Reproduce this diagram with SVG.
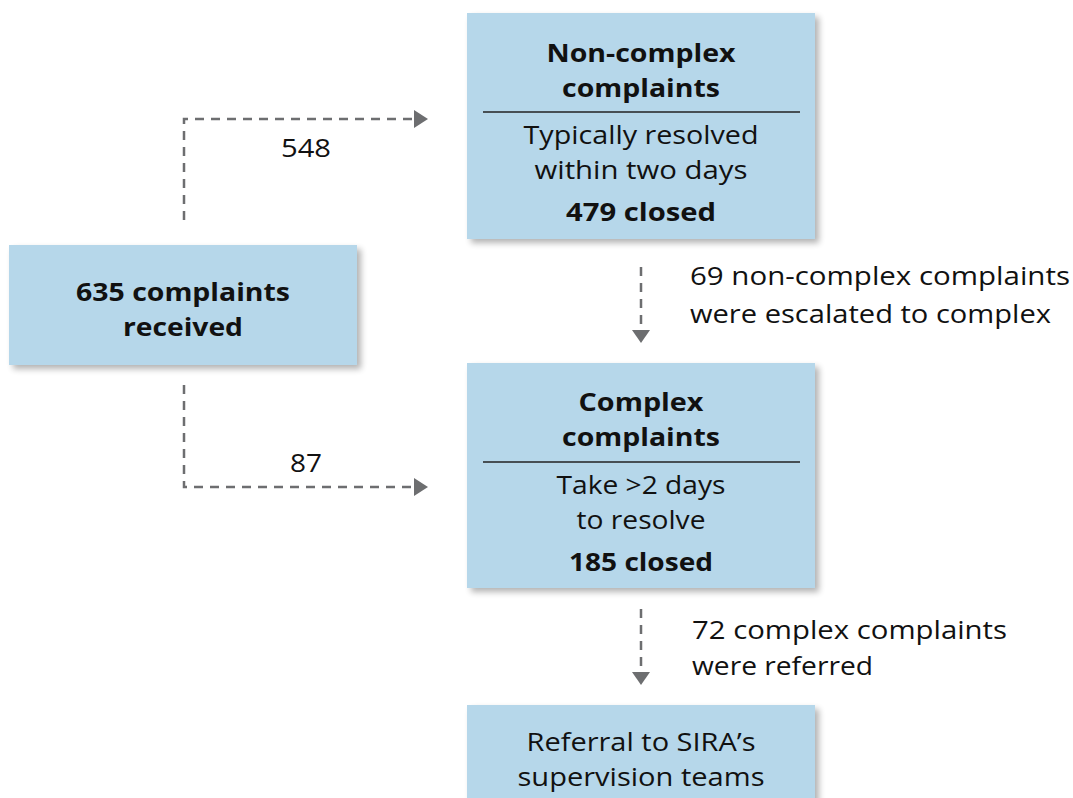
<svg xmlns="http://www.w3.org/2000/svg" width="1073" height="798" viewBox="0 0 1073 798">
<defs>
<filter id="sh" x="-10%" y="-10%" width="125%" height="130%">
<feGaussianBlur in="SourceAlpha" stdDeviation="3"/>
<feOffset dx="4" dy="4"/>
<feComponentTransfer><feFuncA type="linear" slope="0.3"/></feComponentTransfer>
<feMerge><feMergeNode/><feMergeNode in="SourceGraphic"/></feMerge>
</filter>
</defs>
<style>
.box{fill:#b6d7ea;filter:url(#sh)}
.t{font-family:"Open Sans","Liberation Sans",sans-serif;font-size:25px;fill:#111;text-anchor:middle}
.b{font-weight:bold}
.l{text-anchor:start}
.c{fill:none;stroke:#6d6e70;stroke-width:2.5;stroke-dasharray:9 7}
.div{stroke:#222;stroke-width:1.3}
.ahp{fill:#6d6e70}
</style>
<rect width="1073" height="798" fill="#fff"/>
<g id="connectors">
<path class="c" d="M184,220 V119 H414"/>
<path class="ahp" d="M414,110 L428,119 L414,128 Z"/>
<text class="t" x="306" y="157" textLength="50" lengthAdjust="spacingAndGlyphs">548</text>
<path class="c" d="M184,385 V487 H414"/>
<path class="ahp" d="M414,478 L428,487 L414,496 Z"/>
<text class="t" x="306" y="472" textLength="32" lengthAdjust="spacingAndGlyphs">87</text>
<path class="c" d="M641,267 V330"/>
<path class="ahp" d="M632,330 L641,343 L650,330 Z"/>
<text class="t l" x="690" y="285" textLength="380" lengthAdjust="spacingAndGlyphs">69 non-complex complaints</text>
<text class="t l" x="690" y="323" textLength="361" lengthAdjust="spacingAndGlyphs">were escalated to complex</text>
<path class="c" d="M641,609 V672"/>
<path class="ahp" d="M632,672 L641,685 L650,672 Z"/>
<text class="t l" x="692" y="639" textLength="315" lengthAdjust="spacingAndGlyphs">72 complex complaints</text>
<text class="t l" x="692" y="675" textLength="181" lengthAdjust="spacingAndGlyphs">were referred</text>
</g>
<g id="received">
<rect class="box" x="9" y="245" width="348" height="120"/>
<text class="t b" x="183" y="301" textLength="214" lengthAdjust="spacingAndGlyphs">635 complaints</text>
<text class="t b" x="183" y="336" textLength="120" lengthAdjust="spacingAndGlyphs">received</text>
</g>
<g id="noncomplex">
<rect class="box" x="467" y="13" width="348" height="226"/>
<text class="t b" x="641" y="62" textLength="189" lengthAdjust="spacingAndGlyphs">Non-complex</text>
<text class="t b" x="641" y="97" textLength="158" lengthAdjust="spacingAndGlyphs">complaints</text>
<line class="div" x1="483" y1="112" x2="800" y2="112"/>
<text class="t" x="641" y="144" textLength="235" lengthAdjust="spacingAndGlyphs">Typically resolved</text>
<text class="t" x="641" y="179" textLength="213" lengthAdjust="spacingAndGlyphs">within two days</text>
<text class="t b" x="641" y="221" textLength="150" lengthAdjust="spacingAndGlyphs">479 closed</text>
</g>
<g id="complex">
<rect class="box" x="467" y="363" width="348" height="225"/>
<text class="t b" x="641" y="411" textLength="125" lengthAdjust="spacingAndGlyphs">Complex</text>
<text class="t b" x="641" y="446" textLength="158" lengthAdjust="spacingAndGlyphs">complaints</text>
<line class="div" x1="483" y1="462" x2="800" y2="462"/>
<text class="t" x="641" y="494" textLength="169" lengthAdjust="spacingAndGlyphs">Take &gt;2 days</text>
<text class="t" x="641" y="529" textLength="129" lengthAdjust="spacingAndGlyphs">to resolve</text>
<text class="t b" x="641" y="571" textLength="144" lengthAdjust="spacingAndGlyphs">185 closed</text>
</g>
<g id="referral">
<rect class="box" x="467" y="705" width="348" height="110"/>
<text class="t" x="641" y="751" textLength="229" lengthAdjust="spacingAndGlyphs">Referral to SIRA’s</text>
<text class="t" x="641" y="786" textLength="247" lengthAdjust="spacingAndGlyphs">supervision teams</text>
</g>
</svg>
